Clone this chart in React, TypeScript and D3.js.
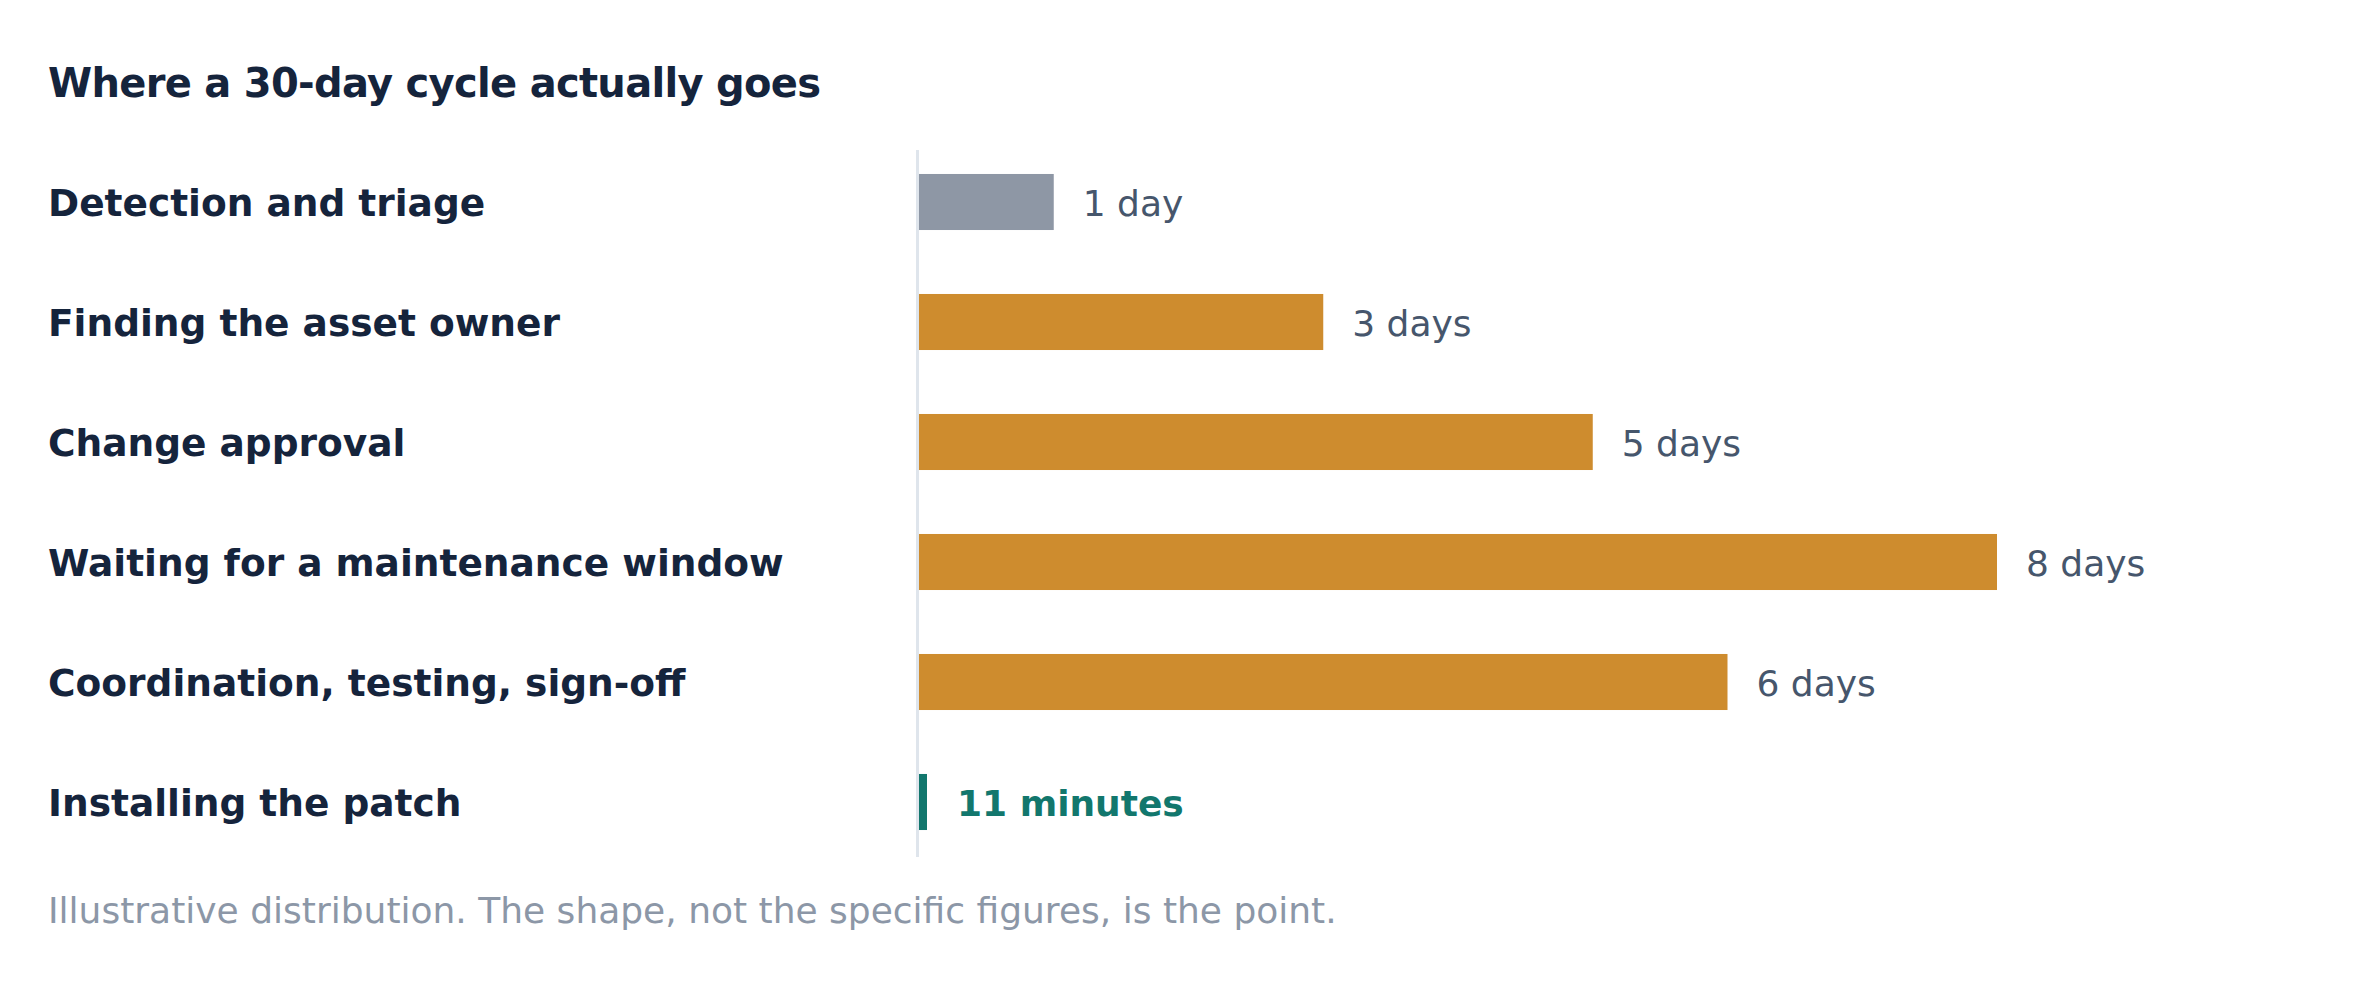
// Where a 30-day cycle actually goes — horizontal bar chart, d3 scales + JSX marks.
import { useMemo } from "react";
import * as d3 from "d3";

const W = 2376;
const H = 996;

const STAGES = [
  "Detection and triage",
  "Finding the asset owner",
  "Change approval",
  "Waiting for a maintenance window",
  "Coordination, testing, sign-off",
  "Installing the patch",
];
// duration of each stage, in days (11 minutes for the patch itself)
const DAYS = [1, 3, 5, 8, 6, 11 / (60 * 24)];
const VALUE_LABELS = ["1 day", "3 days", "5 days", "8 days", "6 days", "11 minutes"];
const KINDS = ["detect", "wait", "wait", "wait", "wait", "work"];

const TITLE = "Where a 30-day cycle actually goes";
const NOTE = "Illustrative distribution. The shape, not the specific figures, is the point.";

const COLORS: Record<string, string> = {
  detect: "#8e97a5",
  wait: "#ce8c2e",
  work: "#12776d",
};

const FONT = "'DejaVu Sans', Verdana, sans-serif";
const INK = "#15243c";
const INK_DIM = "#46566c";
const INK_FAINT = "#8c97a7";
const RULE = "#dfe5ec";

export default function App() {
  const x0 = 919;
  const x = useMemo(
    () => d3.scaleLinear().domain([0, d3.max(DAYS) ?? 1]).range([x0, x0 + 1078]),
    [],
  );
  const y = useMemo(
    () =>
      d3
        .scaleBand<string>()
        .domain(STAGES)
        .range([142, 862])
        .paddingInner(0.533)
        .paddingOuter(0.2665),
    [],
  );
  const bw = y.bandwidth();
  const minW = 8; // keep the tiny "install" bar visible

  return (
    <>
      <style>{`html,body{margin:0;padding:0;background:#fff}`}</style>
      <svg
        width={W}
        height={H}
        viewBox={`0 0 ${W} ${H}`}
        style={{ display: "block", fontFamily: FONT }}
      >
        <rect width={W} height={H} fill="#fff" />
        <text x={48} y={97} fill={INK} fontSize={40} fontWeight={700} letterSpacing={-0.7}>
          {TITLE}
        </text>

        {/* baseline rule */}
        <line
          x1={x0 - 1.5}
          x2={x0 - 1.5}
          y1={(y(STAGES[0]) ?? 0) - 24}
          y2={(y(STAGES[STAGES.length - 1]) ?? 0) + bw + 27}
          stroke={RULE}
          strokeWidth={3}
        />

        {STAGES.map((s, i) => {
          const top = y(s) ?? 0;
          const cy = top + bw / 2;
          const w = Math.max(minW, x(DAYS[i]) - x0);
          const work = KINDS[i] === "work";
          return (
            <g key={s}>
              <text
                x={48}
                y={cy}
                dy="0.36em"
                fill={INK}
                fontSize={37.5}
                fontWeight={700}
              >
                {s}
              </text>
              <rect x={x0} y={top} width={w} height={bw} fill={COLORS[KINDS[i]]} />
              <text
                x={x0 + w + (work ? 30 : 29)}
                y={cy}
                dy="0.38em"
                fill={work ? COLORS.work : INK_DIM}
                fontSize={36}
                fontWeight={work ? 700 : 400}
              >
                {VALUE_LABELS[i]}
              </text>
            </g>
          );
        })}

        <text x={48} y={923} fill={INK_FAINT} fontSize={36}>
          {NOTE}
        </text>
      </svg>
    </>
  );
}
